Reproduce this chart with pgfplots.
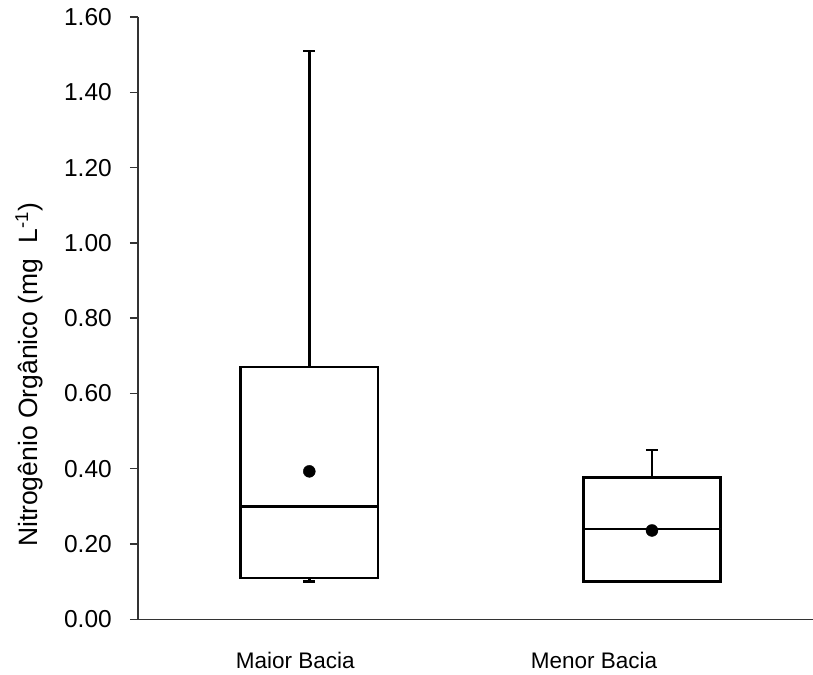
\documentclass[border=0pt]{standalone}
\usepackage{fontspec}
\setmainfont{Liberation Sans}
\usepackage{pgfplots}
\pgfplotsset{compat=1.18}
\usepgfplotslibrary{statistics}

\begin{document}
\begin{tikzpicture}
\begin{axis}[
  scale only axis,
  width=675bp, height=602.3bp,
  xmin=0.5, xmax=2.47,
  ymin=0, ymax=1.6,
  axis lines*=left,
  axis line style={line width=1.3bp, color=black!80},
  ytick={0,0.2,0.4,0.6,0.8,1.0,1.2,1.4,1.6},
  tick align=outside,
  major tick length=8bp,
  ytick style={line width=1.3bp, color=black!80},
  xtick={0.959,1.831},
  xticklabels={Maior Bacia, Menor Bacia},
  xtick style={draw=none},
  /pgf/number format/assume math mode=true,
  yticklabel={\pgfmathprintnumber[fixed, fixed zerofill, precision=2]{\tick}},
  yticklabel style={font=\fontsize{24.5bp}{28bp}\selectfont, inner sep=0pt, anchor=east, xshift=-18bp},
  xticklabel style={font=\fontsize{22.5bp}{27bp}\selectfont, inner sep=0pt, anchor=north, yshift=-25bp},
  ylabel={Nitrogênio Orgânico (mg\ \ L\textsuperscript{-1})},
  ylabel style={font=\fontsize{26.5bp}{30bp}\selectfont, inner sep=0pt,
    at={(rel axis cs:-0.1496,0.4056)}, anchor=base},
  boxplot/draw direction=y,
  clip=false,
]
\coordinate (o) at (rel axis cs:0,0);

% Maior Bacia
\addplot[draw=black, line width=2.6bp, fill=white,
  boxplot prepared={draw position=1,
    lower whisker=0.10, lower quartile=0.11, median=0.30,
    upper quartile=0.67, upper whisker=1.51,
    box extend=0.40, whisker extend=0.035}]
  coordinates {};

% Menor Bacia
\addplot[draw=black, line width=2.6bp, fill=white,
  boxplot prepared={draw position=2,
    lower whisker=0.10, lower quartile=0.10, median=0.24,
    upper quartile=0.377, upper whisker=0.45,
    box extend=0.40, whisker extend=0.035}]
  coordinates {};

% means
\addplot[only marks, mark=*, mark size=6bp, black] coordinates {(1,0.393) (2,0.236)};
\end{axis}
\pgfresetboundingbox
\useasboundingbox (o) ++(-138bp,-55.7bp) rectangle ++(813bp,675bp);
\end{tikzpicture}
\end{document}
